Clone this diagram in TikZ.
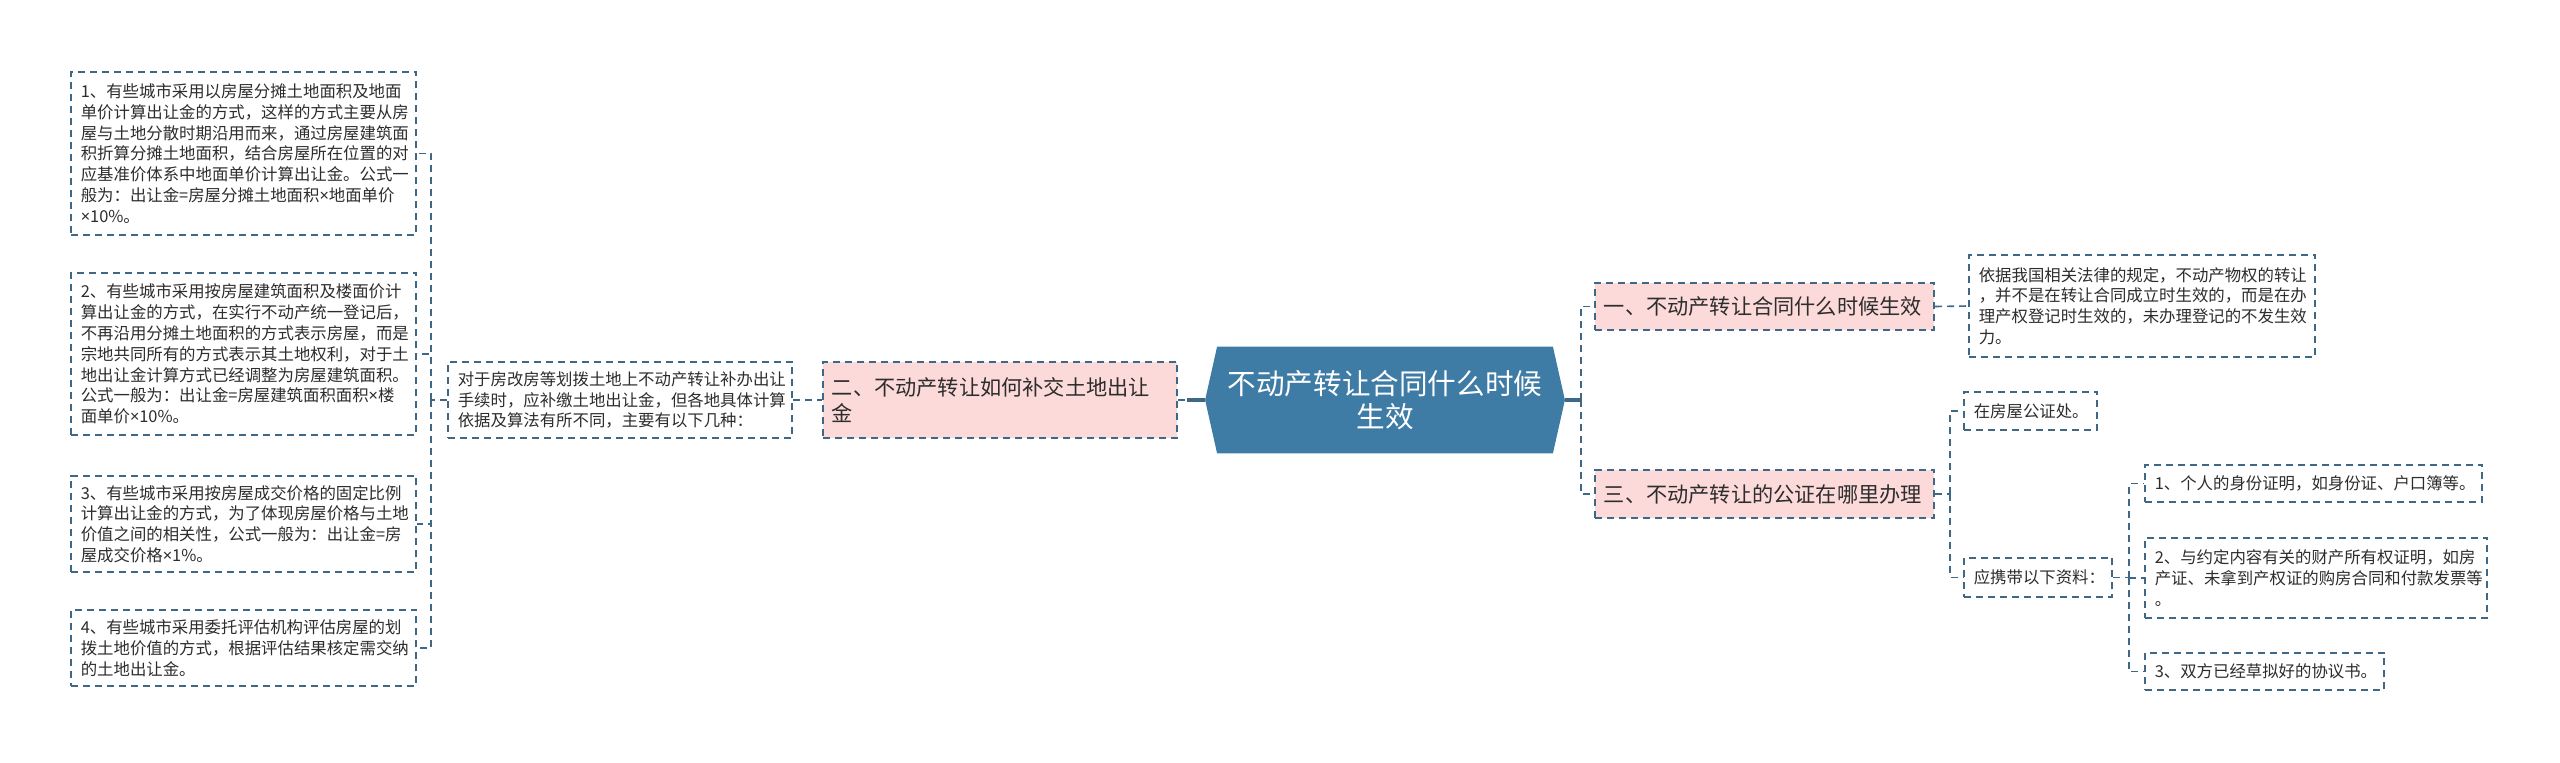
\documentclass[tikz,border=0pt]{standalone}
\usepackage{fontspec}
\setmainfont{Noto Sans CJK SC}
\newfontfamily\latinfont{Noto Sans}
\usepackage{tikz}
\usetikzlibrary{
  positioning,
  backgrounds
}
\definecolor{LineBlue}{RGB}{62, 104, 133}
\definecolor{RootBlue}{RGB}{62, 123, 165}
\definecolor{SoftPink}{RGB}{252, 218, 218}
\definecolor{InkGray}{RGB}{45, 45, 45}
\newcommand{\tms}{{\latinfont ×}}
\tikzset{
    link/.style={draw=LineBlue, line width=0.8pt, dash pattern=on 3.5pt off 2.5pt},
    rootlink/.style={draw=LineBlue, line width=1.6pt},
    leafbox/.style={draw=LineBlue, line width=0.8pt, dash pattern=on 3.5pt off 2.5pt,
        fill=white, text=InkGray, align=left, anchor=west, inner xsep=5pt, inner ysep=2pt,
        text width=#1, font=\fontsize{8.2pt}{10.4pt}\selectfont},
    branchbox/.style={leafbox=#1, fill=SoftPink, inner xsep=4.5pt,
        font=\fontsize{10.6pt}{13.3pt}\selectfont},
    rootbox/.style={text=white, align=center, inner sep=0pt,
        minimum width=179.5pt, minimum height=53pt,
        font=\fontsize{14.3pt}{16.7pt}\selectfont}
}

\begin{document}
\begin{tikzpicture}[x=0.5pt, y=-0.5pt]
    \useasboundingbox (0,0) rectangle (2560,762);

    % centre
    \node[rootbox] (root) at (1385,400) {不动产转让合同什么时候\\生效};
    \begin{scope}[on background layer]
        \fill[RootBlue] ([xshift=6pt]root.north west) -- ([xshift=-6pt]root.north east) -- (root.east)
            -- ([xshift=-6pt]root.south east) -- ([xshift=6pt]root.south west) -- (root.west) -- cycle;
    \end{scope}

    % left side
    \node[branchbox=168.2pt, minimum height=38pt] (b2) at (822,400) {二、不动产转让如何补交土地出让\\金};
    \node[leafbox=162.2pt, minimum height=38pt] (n2) at (447,400) {对于房改房等划拨土地上不动产转让补办出让\\手续时，应补缴土地出让金，但各地具体计算\\依据及算法有所不同，主要有以下几种：};
    \node[leafbox=162.7pt, minimum height=81.5pt] (l1) at (70,153.5) {1、有些城市采用以房屋分摊土地面积及地面\\单价计算出让金的方式，这样的方式主要从房\\屋与土地分散时期沿用而来，通过房屋建筑面\\积折算分摊土地面积，结合房屋所在位置的对\\应基准价体系中地面单价计算出让金。公式一\\般为：出让金=房屋分摊土地面积\tms 地面单价\\\tms 10\%。};
    \node[leafbox=162.7pt, minimum height=81pt] (l2) at (70,354) {2、有些城市采用按房屋建筑面积及楼面价计\\算出让金的方式，在实行不动产统一登记后，\\不再沿用分摊土地面积的方式表示房屋，而是\\宗地共同所有的方式表示其土地权利，对于土\\地出让金计算方式已经调整为房屋建筑面积。\\公式一般为：出让金=房屋建筑面积面积\tms 楼\\面单价\tms 10\%。};
    \node[leafbox=162.7pt, minimum height=48pt] (l3) at (70,524) {3、有些城市采用按房屋成交价格的固定比例\\计算出让金的方式，为了体现房屋价格与土地\\价值之间的相关性，公式一般为：出让金=房\\屋成交价格\tms 1\%。};
    \node[leafbox=162.7pt, minimum height=38pt] (l4) at (70,648) {4、有些城市采用委托评估机构评估房屋的划\\拨土地价值的方式，根据评估结果核定需交纳\\的土地出让金。};

    % right side
    \node[branchbox=160.7pt, minimum height=23.5pt] (b1) at (1594,306.5) {一、不动产转让合同什么时候生效};
    \node[leafbox=163.2pt, minimum height=51pt] (r1) at (1968,306) {依据我国相关法律的规定，不动产物权的转让\\，并不是在转让合同成立时生效的，而是在办\\理产权登记时生效的，未办理登记的不发生效\\力。};
    \node[branchbox=160.7pt, minimum height=24pt] (b3) at (1594,494) {三、不动产转让的公证在哪里办理};
    \node[leafbox=56.7pt, minimum height=19pt] (r2) at (1963,411) {在房屋公证处。};
    \node[leafbox=64.2pt, minimum height=19.5pt] (r3) at (1963,577.5) {应携带以下资料：};
    \node[leafbox=158.7pt, minimum height=18.5pt] (s1) at (2144,483.5) {1、个人的身份证明，如身份证、户口簿等。};
    \node[leafbox=161.2pt, minimum height=40pt] (s2) at (2144,578) {2、与约定内容有关的财产所有权证明，如房\\产证、未拿到产权证的购房合同和付款发票等\\。};
    \node[leafbox=109.7pt, minimum height=18.5pt] (s3) at (2144,671.5) {3、双方已经草拟好的协议书。};

    % junctions
    \coordinate[left=9pt of root.west] (rootW);
    \coordinate[right=8pt of root.east] (rootE);
    \coordinate[left=8pt of n2.west] (jl);
    \coordinate[right=7.5pt of b3.east] (jb3);
    \coordinate[right=8pt of r3.east] (jr3);

    % connectors
    \draw[link] (b2.east) -- (rootW);
    \draw[rootlink] (rootW) -- (root.west);
    \draw[link] (n2.east) -- (b2.west);
    \draw[link] (n2.west) -- (jl);
    \foreach \leaf in {l1, l2, l3, l4}
        \draw[link] (jl) |- (\leaf.east);
    \draw[rootlink] (root.east) -- (rootE);
    \draw[link] (rootE) |- (b1.west);
    \draw[link] (rootE) |- (b3.west);
    \draw[link] (b1.east) -- (r1.west);
    \draw[link] (b3.east) -- (jb3);
    \draw[link] (jb3) |- (r2.west);
    \draw[link] (jb3) |- (r3.west);
    \draw[link] (r3.east) -- (jr3);
    \foreach \sub in {s1, s2, s3}
        \draw[link] (jr3) |- (\sub.west);
\end{tikzpicture}
\end{document}
